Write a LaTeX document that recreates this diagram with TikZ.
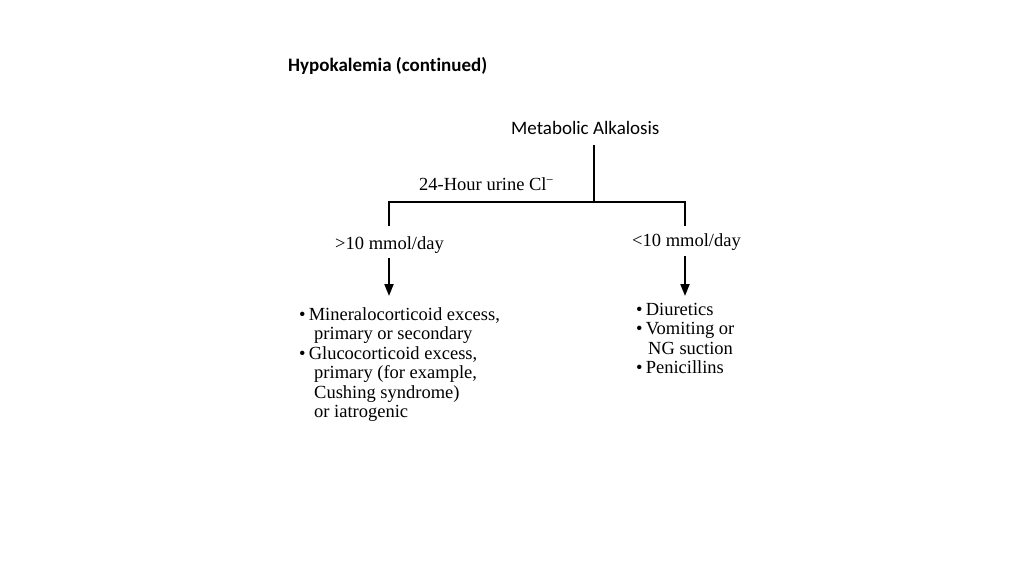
\documentclass[tikz,border=0pt]{standalone}
\usepackage{fontspec}
\setmainfont{Liberation Serif}
\newfontfamily\calib[Ligatures=NoCommon]{Carlito}
\usetikzlibrary{arrows.meta}
\tikzset{
  conn/.style={line width=2pt},
  arr/.style={line width=2pt,-{Triangle[length=12pt,width=9pt]}},
  serif/.style={font=\fontsize{18.5}{19.5}\selectfont, inner sep=0pt},
  sans/.style={font=\calib\fontsize{19}{22}\selectfont, inner sep=0pt},
  listbox/.style={serif, align=left, anchor=north west}
}
\begin{document}
\begin{tikzpicture}[x=1pt,y=-1pt]
\useasboundingbox (0,0) rectangle (1024,576);
\node[sans, font=\calib\bfseries\fontsize{19}{22}\selectfont, anchor=west] (title) at (288,66) {Hypokalemia (continued)};
\node[sans, anchor=west] (ma) at (511,128) {Metabolic Alkalosis};
\node[serif, anchor=west] (urine) at (419,184) {24-Hour urine Cl\textsuperscript{\kern-0.5pt−}};
\coordinate (top) at (594,145);
\coordinate (junc) at (594,202);
\coordinate (lc) at (389,202);
\coordinate (rc) at (685,202);
\coordinate (lend) at (389,226);
\coordinate (rend) at (685,226);
\node[serif] (gt) at (389.5,245) {>10 mmol/day};
\node[serif] (lt) at (686.5,242) {<10 mmol/day};
\coordinate (la) at (389,258);
\coordinate (lb) at (389,296);
\coordinate (ra) at (685,256);
\coordinate (rb) at (685,296);
\draw[conn] (top) -- (junc);
\draw[conn] (lend) -- (lc) -- (rc) -- (rend);
\draw[arr] (la) -- (lb);
\draw[arr] (ra) -- (rb);
\node[listbox] (left) at (299,307) {•\,Mineralocorticoid excess,\\
\hspace*{15pt}primary or secondary\\
•\,Glucocorticoid excess,\\
\hspace*{15pt}primary (for example,\\
\hspace*{15pt}Cushing syndrome)\\
\hspace*{15pt}or iatrogenic};
\node[listbox] (right) at (636,303) {•\,Diuretics\\
•\,Vomiting or\\
\hspace*{12pt}NG suction\\
•\,Penicillins};
\end{tikzpicture}
\end{document}
